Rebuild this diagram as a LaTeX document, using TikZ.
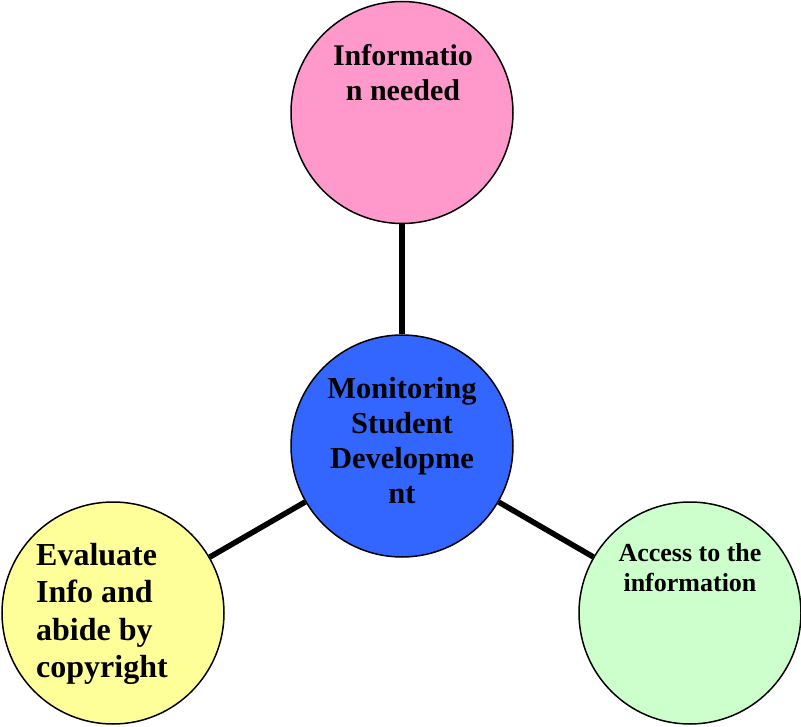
\documentclass[tikz,border=0pt]{standalone}
\usepackage{fontspec}
\setmainfont{Liberation Serif}
\definecolor{cpink}{HTML}{FF99CC}
\definecolor{cblue}{HTML}{3366FF}
\definecolor{cyellow}{HTML}{FFFF99}
\definecolor{cgreen}{HTML}{CCFFCC}
\begin{document}
\begin{tikzpicture}[x=1pt,y=-1pt,
  bubble/.style={circle,draw=black,line width=1.5pt,minimum size=222pt,inner sep=0pt},
  link/.style={line width=5.5pt,black},
  lbl/.style={inner sep=0pt,font=\bfseries}]
\useasboundingbox (0,0) rectangle (801,727);
\node[bubble,fill=cpink] (top) at (402,112.5) {};
\node[bubble,fill=cblue] (mid) at (402,446) {};
\node[bubble,fill=cyellow] (left) at (113,613) {};
\node[bubble,fill=cgreen] (right) at (690,613) {};
\draw[link] (top) -- (mid);
\draw[link] (mid) -- (left);
\draw[link] (mid) -- (right);
\node[lbl,anchor=north,align=center,font=\bfseries\fontsize{30}{35}\selectfont] (ttop) at (403,44) {Informatio\\n needed};
\node[lbl,anchor=north,align=center,font=\bfseries\fontsize{30.5}{35}\selectfont] (tmid) at (402,377) {Monitoring\\Student\\Developme\\nt};
\node[lbl,anchor=north west,align=left,font=\bfseries\fontsize{32}{37.5}\selectfont] (tleft) at (36,543) {Evaluate\\Info and\\abide by\\copyright};
\node[lbl,anchor=north,align=center,font=\bfseries\fontsize{26}{30}\selectfont] (tright) at (690,543) {Access to the\\information};
\end{tikzpicture}
\end{document}
